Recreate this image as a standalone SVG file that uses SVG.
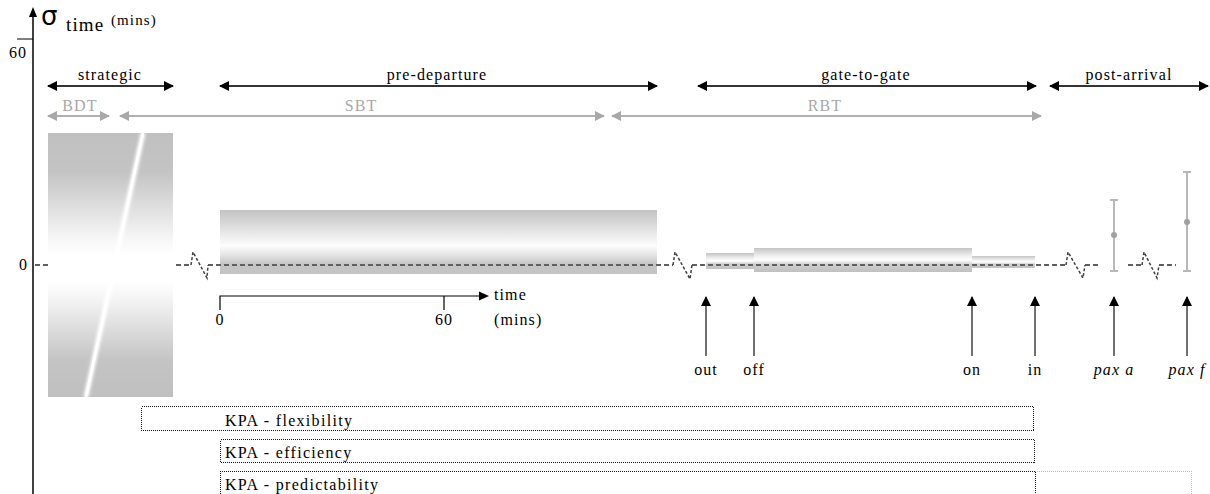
<svg xmlns="http://www.w3.org/2000/svg" width="1210" height="494" viewBox="0 0 1210 494">
<style>
text{font-family:"Liberation Serif","Times New Roman",serif;font-size:16px;letter-spacing:1.1px;fill:#000}
.g{fill:#a8a8a8}
.k{font-size:16px;letter-spacing:1.3px}
.ph{stroke:#333;stroke-width:2;fill:none}
.gr{stroke:#b0b0b0;stroke-width:2;fill:none}
.zero{stroke:#606060;stroke-width:2;stroke-dasharray:5 3;fill:none}
.brk{stroke:#404040;stroke-width:1.5;stroke-dasharray:3 2;fill:none}
.up{stroke:#404040;stroke-width:1.5;fill:none}
.kpa{fill:none;stroke:#111;stroke-width:1;stroke-dasharray:1 1;shape-rendering:crispEdges}
.kpa2{fill:none;stroke:#bbb;stroke-width:1;stroke-dasharray:1 1;shape-rendering:crispEdges}
.eb{stroke:#b8b8b8;stroke-width:2;fill:none}
</style>
<defs>
<marker id="ab" viewBox="0 0 10 10" refX="9" refY="5" markerWidth="5" markerHeight="5" orient="auto-start-reverse"><path d="M0,0L10,5L0,10z" fill="#000"/></marker>
<marker id="ag" viewBox="0 0 10 10" refX="9" refY="5" markerWidth="5" markerHeight="5" orient="auto-start-reverse"><path d="M0,0L10,5L0,10z" fill="#a8a8a8"/></marker>
<marker id="au" viewBox="0 0 10 10" refX="9" refY="5" markerWidth="7" markerHeight="7" orient="auto"><path d="M0,0L10,5L0,10z" fill="#000"/></marker>
<linearGradient id="gStrat" x1="0" y1="0" x2="0" y2="1">
<stop offset="0" stop-color="#c0c0c0"/><stop offset="0.15" stop-color="#c4c4c4"/><stop offset="0.4" stop-color="#f6f6f6"/><stop offset="0.46" stop-color="#ffffff"/><stop offset="0.56" stop-color="#ffffff"/><stop offset="0.63" stop-color="#f4f4f4"/><stop offset="0.86" stop-color="#c4c4c4"/><stop offset="1" stop-color="#c0c0c0"/>
</linearGradient>
<linearGradient id="gPre" x1="0" y1="0" x2="0" y2="1">
<stop offset="0" stop-color="#c4c4c4"/><stop offset="0.2" stop-color="#d4d4d4"/><stop offset="0.65" stop-color="#fdfdfd"/><stop offset="0.82" stop-color="#e4e4e4"/><stop offset="1" stop-color="#c2c2c2"/>
</linearGradient>
<linearGradient id="gBar" x1="0" y1="0" x2="0" y2="1">
<stop offset="0" stop-color="#c4c4c4"/><stop offset="0.3" stop-color="#ececec"/><stop offset="0.5" stop-color="#ffffff"/><stop offset="0.68" stop-color="#d0d0d0"/><stop offset="1" stop-color="#c0c0c0"/>
</linearGradient>
<filter id="blur" x="-50%" y="-10%" width="200%" height="120%"><feGaussianBlur stdDeviation="1.5"/></filter>
</defs>

<g id="y-axis">
<line x1="33" y1="494" x2="33" y2="16" stroke="#000" stroke-width="1.5"/>
<path d="M33,7L29,17L37,17z" fill="#000"/>
<line x1="17" y1="39" x2="33" y2="39" stroke="#000" stroke-width="1"/>
<text x="9" y="58">60</text>
<text x="19" y="270">0</text>
<text x="41" y="25" style="font-family:'DejaVu Sans',sans-serif;font-size:26px;letter-spacing:0">σ</text>
<text x="66" y="31" style="font-size:19px">time</text>
<text x="111" y="25" style="font-size:15px">(mins)</text>
</g>

<g id="phase-strategic">
<line class="ph" x1="48" y1="86" x2="173" y2="86" marker-start="url(#ab)" marker-end="url(#ab)"/>
<text x="110" y="80" text-anchor="middle">strategic</text>
</g>
<g id="phase-pre-departure">
<line class="ph" x1="220" y1="86" x2="657" y2="86" marker-start="url(#ab)" marker-end="url(#ab)"/>
<text x="437" y="80" text-anchor="middle">pre-departure</text>
</g>
<g id="phase-gate-to-gate">
<line class="ph" x1="698" y1="86" x2="1036" y2="86" marker-start="url(#ab)" marker-end="url(#ab)"/>
<text x="866" y="80" text-anchor="middle">gate-to-gate</text>
</g>
<g id="phase-post-arrival">
<line class="ph" x1="1050" y1="86" x2="1208" y2="86" marker-start="url(#ab)" marker-end="url(#ab)"/>
<text x="1129" y="80" text-anchor="middle">post-arrival</text>
</g>

<g id="bdt">
<line class="gr" x1="48" y1="116" x2="109" y2="116" marker-start="url(#ag)" marker-end="url(#ag)"/>
<text class="g" x="80" y="111" text-anchor="middle">BDT</text>
</g>
<g id="sbt">
<line class="gr" x1="120" y1="116" x2="604" y2="116" marker-start="url(#ag)" marker-end="url(#ag)"/>
<text class="g" x="361" y="111" text-anchor="middle">SBT</text>
</g>
<g id="rbt">
<line class="gr" x1="612" y1="116" x2="1041" y2="116" marker-start="url(#ag)" marker-end="url(#ag)"/>
<text class="g" x="825" y="111" text-anchor="middle">RBT</text>
</g>

<g id="strategic-box">
<rect x="48" y="133" width="125" height="264" fill="url(#gStrat)"/>
<line x1="143" y1="133" x2="86" y2="397" stroke="#fff" stroke-width="5" filter="url(#blur)"/>
<line x1="143" y1="133" x2="86" y2="397" stroke="#fff" stroke-width="2.5"/>
</g>

<g id="pre-departure-box">
<rect x="220" y="210" width="437" height="55" fill="url(#gPre)"/>
<rect x="220" y="265" width="437" height="9" fill="#c4c4c4"/>
</g>

<g id="gate-bars">
<rect x="706" y="253" width="48" height="16" fill="url(#gBar)"/>
<rect x="754" y="248" width="218" height="24" fill="url(#gBar)"/>
<rect x="972" y="256" width="63" height="12" fill="url(#gBar)"/>
</g>

<g id="error-bar-pax-a">
<line class="eb" x1="1114" y1="200" x2="1114" y2="271"/>
<line class="eb" x1="1110" y1="200" x2="1118" y2="200"/>
<line class="eb" x1="1110" y1="271" x2="1118" y2="271"/>
<circle cx="1114" cy="235" r="3" fill="#a0a0a0"/>
</g>
<g id="error-bar-pax-f">
<line class="eb" x1="1187" y1="172" x2="1187" y2="271"/>
<line class="eb" x1="1183" y1="172" x2="1191" y2="172"/>
<line class="eb" x1="1183" y1="271" x2="1191" y2="271"/>
<circle cx="1187" cy="222" r="3" fill="#a0a0a0"/>
</g>

<g id="connectors">
<path class="zero" d="M35,265H48M176,265H191M208,265H673M692,265H1066M1085,265H1100M1128,265H1142M1159,265H1176"/>
<path class="brk" d="M191,265L193,252L207,278L208,265"/>
<path class="brk" d="M673,265L675,252L690,279L692,265"/>
<path class="brk" d="M1066,265L1068,252L1083,278L1085,265"/>
<path class="brk" d="M1142,265L1144,252L1157,278L1159,265"/>
<line class="up" x1="706" y1="356" x2="706" y2="297" marker-end="url(#au)"/>
<line class="up" x1="754" y1="356" x2="754" y2="297" marker-end="url(#au)"/>
<line class="up" x1="972" y1="356" x2="972" y2="297" marker-end="url(#au)"/>
<line class="up" x1="1035" y1="356" x2="1035" y2="297" marker-end="url(#au)"/>
<line class="up" x1="1114" y1="356" x2="1114" y2="297" marker-end="url(#au)"/>
<line class="up" x1="1187" y1="356" x2="1187" y2="297" marker-end="url(#au)"/>
</g>

<g id="time-axis">
<path d="M220,310V296H480" stroke="#000" stroke-width="1.2" fill="none"/>
<line x1="444" y1="296" x2="444" y2="310" stroke="#000" stroke-width="1.2"/>
<path d="M489,296L479,291.5L479,300.5z" fill="#000"/>
<text x="220" y="325" text-anchor="middle">0</text>
<text x="444" y="325" text-anchor="middle">60</text>
<text x="494" y="300">time</text>
<text x="494" y="325">(mins)</text>
</g>

<g id="event-labels">
<text x="706" y="375" text-anchor="middle">out</text>
<text x="754" y="375" text-anchor="middle">off</text>
<text x="972" y="375" text-anchor="middle">on</text>
<text x="1035" y="375" text-anchor="middle">in</text>
<text x="1114" y="375" text-anchor="middle" font-style="italic">pax a</text>
<text x="1187" y="375" text-anchor="middle" font-style="italic">pax f</text>
</g>

<g id="kpa-flexibility">
<rect class="kpa" x="141.5" y="406.5" width="892" height="24"/>
<text class="k" x="225" y="426">KPA - flexibility</text>
</g>
<g id="kpa-efficiency">
<rect class="kpa" x="220.5" y="439.5" width="814" height="23"/>
<text class="k" x="225" y="458">KPA - efficiency</text>
</g>
<g id="kpa-predictability">
<path class="kpa2" d="M1035,471.5H1191.5V494"/>
<path class="kpa" d="M220.5,494V471.5H1035.5V494"/>
<text class="k" x="225" y="490">KPA - predictability</text>
</g>
</svg>
